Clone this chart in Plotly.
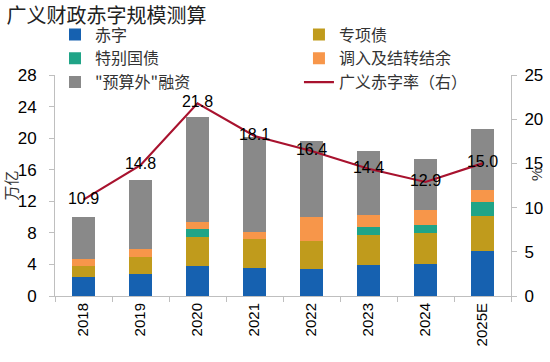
import plotly.graph_objects as go

years = ["2018", "2019", "2020", "2021", "2022", "2023", "2024", "2025E"]
deficit = [2.4, 2.8, 3.8, 3.6, 3.4, 3.9, 4.1, 5.7]
special_bonds = [1.4, 2.1, 3.7, 3.6, 3.6, 3.8, 3.9, 4.4]
special_treasury = [0, 0, 1.0, 0, 0, 1.0, 1.0, 1.8]
transfers = [0.9, 1.0, 0.9, 0.9, 3.05, 1.6, 1.9, 1.5]
off_budget = [5.3, 8.8, 13.3, 12.0, 9.65, 8.1, 6.5, 7.8]
deficit_rate = [10.9, 14.8, 21.8, 18.1, 16.4, 14.4, 12.9, 15.0]

font_cjk = "Noto Sans CJK SC"
font_num = "Liberation Sans, Arial"

fig = go.Figure()
series = [
    ("赤字", deficit, "#1661B0", "legend"),
    ("专项债", special_bonds, "#C09B1C", "legend2"),
    ("特别国债", special_treasury, "#20A487", "legend"),
    ("调入及结转结余", transfers, "#F7964A", "legend2"),
    ("\"预算外\"融资", off_budget, "#898989", "legend"),
]
for name, vals, col, lg in series:
    fig.add_trace(go.Bar(x=years, y=vals, name=name, legend=lg,
                         marker=dict(color=col, line=dict(width=0))))

fig.add_trace(go.Scatter(
    x=years, y=deficit_rate, name="广义赤字率（右）", yaxis="y2", legend="legend2",
    mode="lines+text", line=dict(color="#A8122E", width=2.2),
    text=[f"{v:.1f}" for v in deficit_rate], textposition="middle center",
    textfont=dict(family=font_num, size=16, color="black"),
))

legend_common = dict(orientation="v", yanchor="top", y=1.26, xanchor="left",
                     tracegroupgap=0, itemwidth=30, traceorder="normal",
                     font=dict(family=font_cjk, size=16, color="#333"),
                     bgcolor="rgba(0,0,0,0)")

fig.update_layout(
    width=550, height=362,
    margin=dict(l=55, r=39, t=75, b=66, autoexpand=False),
    paper_bgcolor="white", plot_bgcolor="white",
    barmode="stack", bargap=0.61,
    title=dict(text="广义财政赤字规模测算", x=0.012, xanchor="left",
               yref="container", y=0.957, yanchor="middle",
               font=dict(family=font_cjk, size=20, color="#222")),
    legend=dict(x=0.0, **legend_common),
    legend2=dict(x=0.535, **legend_common),
    xaxis=dict(type="category", tickangle=-90, tickson="boundaries", ticks="outside", ticklen=5,
               tickcolor="#BFBFBF", showline=True, linecolor="#BFBFBF", linewidth=1,
               automargin=False,
               tickfont=dict(family=font_num, size=15, color="black"), showgrid=False),
    yaxis=dict(range=[0, 28], dtick=4, ticks="outside", ticklen=5, tickcolor="#BFBFBF",
               showline=True, linecolor="#BFBFBF", showgrid=False, zeroline=False,
               ticklabelstandoff=9, automargin=False,
               tickfont=dict(family=font_num, size=17, color="black"),
               title=dict(text="万亿", font=dict(family=font_cjk, size=15, color="#333"), standoff=0)),
    yaxis2=dict(range=[0, 25], dtick=5, overlaying="y", side="right", ticks="outside", ticklen=5,
                tickcolor="#BFBFBF", showline=True, linecolor="#BFBFBF", showgrid=False, zeroline=False,
                ticklabelstandoff=4, automargin=False,
                tickfont=dict(family=font_num, size=17, color="black")),
    annotations=[dict(text="%", xref="paper", yref="paper", x=1.0548, y=0.552,
                      textangle=-90, showarrow=False, xanchor="center", yanchor="middle",
                      font=dict(family=font_num, size=15, color="#333"))],
)

fig.write_html("out.html", config={"displayModeBar": False},
               post_script="document.body.style.margin='0px';")
